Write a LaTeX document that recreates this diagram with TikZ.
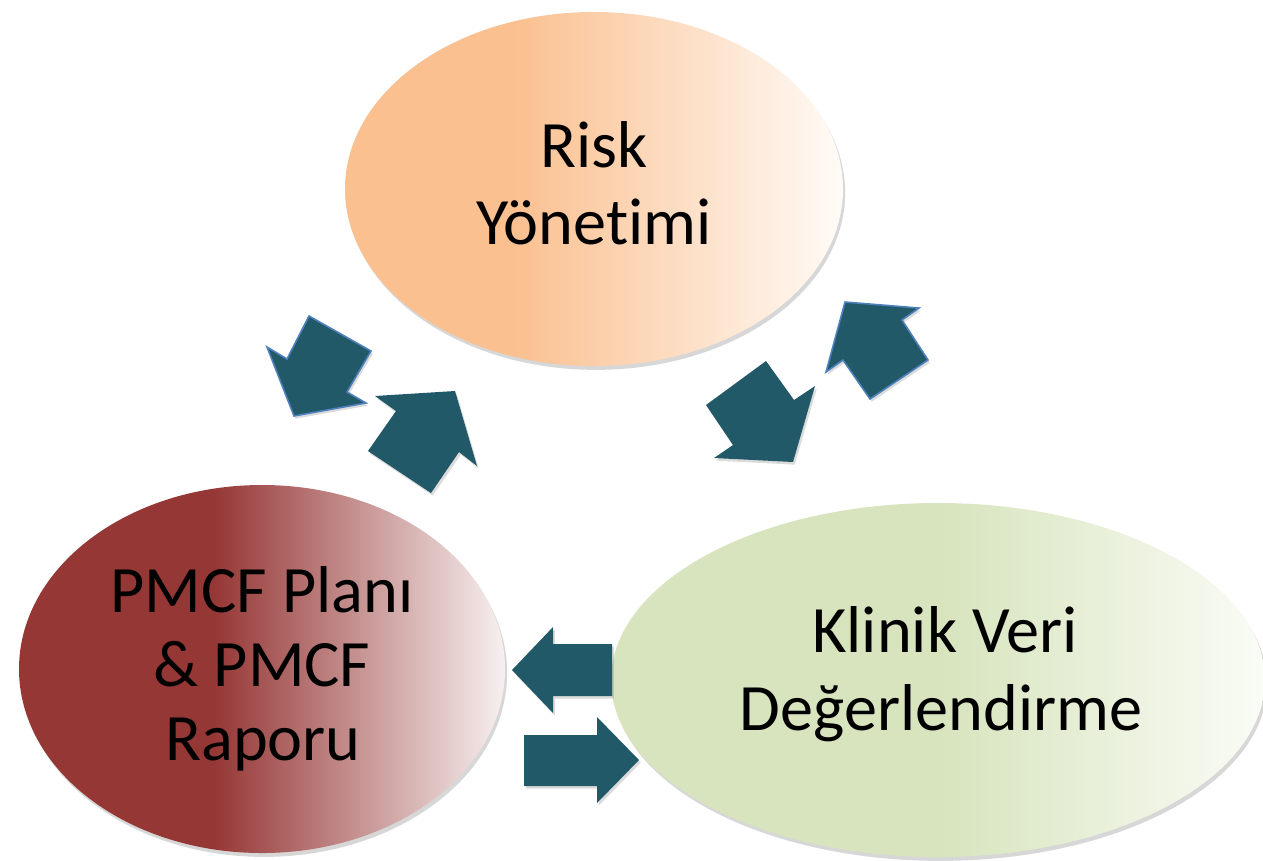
\documentclass[tikz,border=0pt]{standalone}
\usepackage{fontspec}
\setmainfont{Carlito}[Ligatures=NoCommon]
\usetikzlibrary{shapes.geometric,shadows}
\definecolor{orA}{HTML}{FAC090}
\definecolor{orB}{HTML}{FFFBF7}
\definecolor{rdA}{HTML}{953735}
\definecolor{rdB}{HTML}{F7F0F0}
\definecolor{grA}{HTML}{D7E4BD}
\definecolor{grB}{HTML}{FAFCF6}
\definecolor{arrowcol}{HTML}{215968}
\definecolor{arrline}{HTML}{4F81BD}
\pgfdeclarehorizontalshading{orsh}{100bp}{color(0bp)=(orA); color(42bp)=(orA); color(75bp)=(orB); color(100bp)=(orB)}
\pgfdeclarehorizontalshading{rdsh}{100bp}{color(0bp)=(rdA); color(45bp)=(rdA); color(75bp)=(rdB); color(100bp)=(rdB)}
\pgfdeclarehorizontalshading{grsh}{100bp}{color(0bp)=(grA); color(50bp)=(grA); color(75bp)=(grB); color(100bp)=(grB)}
\begin{document}
\begin{tikzpicture}[x=0.02cm,y=-0.02cm,
  blob/.style={ellipse, inner sep=0pt, draw=none,
    drop shadow={shadow xshift=1.2pt, shadow yshift=-2.2pt, opacity=0.22, fill=black!70}},
  lbl/.style={anchor=base, inner sep=0pt, text=black,
    font=\fontsize{37.7pt}{45pt}\selectfont},
  arr/.style={fill=arrowcol,
    drop shadow={shadow xshift=1pt, shadow yshift=-1.5pt, opacity=0.2, fill=black!70}},
  arrl/.style={arr, draw=arrline, line width=0.9pt, line join=miter}]
\useasboundingbox (0,0) rectangle (1263,860);
\clip (0,0) rectangle (1263,860);
\fill[white] (0,0) rectangle (1263,860);
% ellipses
\node[blob, shading=orsh, minimum width={498*0.02cm}, minimum height={354*0.02cm}] (risk) at (594,189) {};
\node[blob, shading=rdsh, minimum width={486*0.02cm}, minimum height={368*0.02cm}] (pmcf) at (262,669) {};
\node[blob, shading=grsh, minimum width={654*0.02cm}, minimum height={354*0.02cm}] (kvd) at (938,680) {};
% texts
\node[lbl] (risk-a) at (594,167) {Risk};
\node[lbl] (risk-b) at (594,244) {Yönetimi};
\node[lbl] (pmcf-a) at (262,612) {PMCF Planı};
\node[lbl] (pmcf-b) at (262,686) {\& PMCF};
\node[lbl] (pmcf-c) at (263,760) {Raporu};
\node[lbl] (kvd-a) at (945,652) {Klinik Veri};
\node[lbl] (kvd-b) at (941,730) {Değerlendirme};
% block arrows
\path[arrl] (309,316) -- (371,351) -- (347,392) -- (366,403) -- (294,416) -- (267,347) -- (287,359) -- cycle;
\path[arr] (455,391) -- (477,466) -- (459,452) -- (431,493) -- (368,451) -- (396,411) -- (375,396) -- cycle;
\path[arr] (766,361) -- (794,400) -- (815,386) -- (793,462) -- (714,458) -- (733,445) -- (706,405) -- cycle;
\path[arrl] (845,302) -- (919,308) -- (902,320) -- (928,360) -- (870,399) -- (843,360) -- (826,372) -- cycle;
\path[arr] (512,670) -- (553,627) -- (553,644) -- (612,644) -- (612,696) -- (553,696) -- (553,713) -- cycle;
\path[arr] (524,735) -- (597,735) -- (597,717) -- (639,760) -- (597,803) -- (597,786) -- (524,786) -- cycle;
\end{tikzpicture}
\end{document}
